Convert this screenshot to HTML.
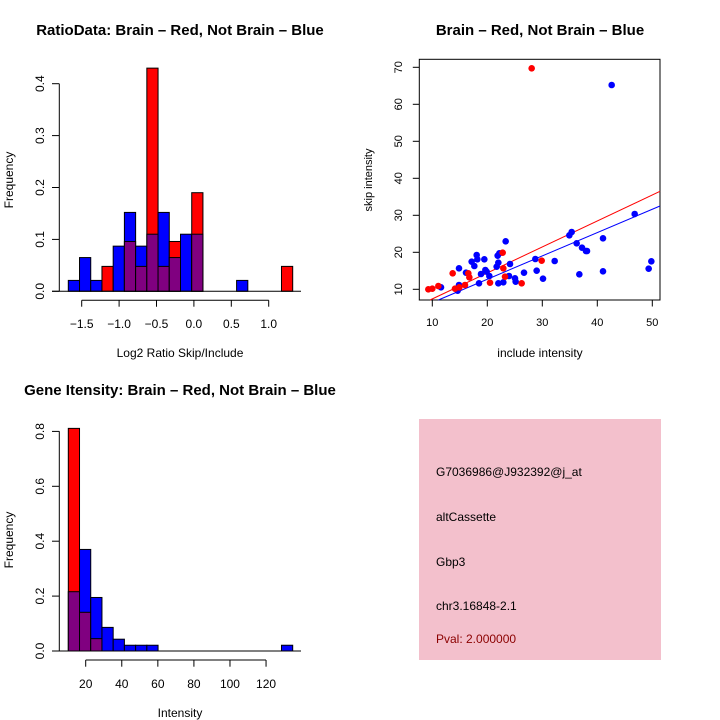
<!DOCTYPE html>
<html><head><meta charset="utf-8"><style>
html,body{margin:0;padding:0;background:#fff;}
svg{display:block;font-family:"Liberation Sans",sans-serif;}
</style></head><body>
<svg id="s" width="720" height="720" viewBox="0 0 720 720" xmlns="http://www.w3.org/2000/svg">
<rect width="720" height="720" fill="#fff"/>
<g font-weight="bold" font-size="15" text-anchor="middle">
<text x="180" y="35">RatioData: Brain – Red, Not Brain – Blue</text>
<text x="540" y="35">Brain – Red, Not Brain – Blue</text>
<text x="180" y="395">Gene Itensity: Brain – Red, Not Brain – Blue</text>
</g>
<g font-size="12" text-anchor="middle">
<text x="180" y="357">Log2 Ratio Skip/Include</text>
<text x="180" y="717">Intensity</text>
<text x="540" y="357">include intensity</text>
<text transform="translate(13,180) rotate(-90)" font-size="12">Frequency</text>
<text transform="translate(13,540) rotate(-90)" font-size="12">Frequency</text>
<text transform="translate(372,180) rotate(-90)" font-size="11">skip intensity</text>
</g>
<g id="h1"></g><g id="h2"></g><g id="sc"></g>
<rect x="419" y="419" width="242" height="241" fill="#f3c0cc"/>
<g font-size="12">
<text x="436" y="476">G7036986@J932392@j_at</text>
<text x="436" y="521">altCassette</text>
<text x="436" y="566">Gbp3</text>
<text x="436" y="610">chr3.16848-2.1</text>
<text x="436" y="643" fill="#8b0000">Pval: 2.000000</text>
</g>
</svg>
<script>
var NS="http://www.w3.org/2000/svg";
function el(p,t,a,txt){var e=document.createElementNS(NS,t);for(var k in a)e.setAttribute(k,a[k]);if(txt!=null)e.textContent=txt;document.getElementById(p).appendChild(e);return e;}
function hist(id,y0,scale,blue,red,x0,w){
 for(var i=0;i<blue.length;i++){
  var b=blue[i]||0,r=red[i]||0;if(!b&&!r)continue;
  var x=x0+w*i, hi=Math.max(b,r), lo=Math.min(b,r);
  var c=b>=r?"#0000ff":"#ff0000";
  el(id,"rect",{x:x,y:y0-hi*scale,width:w,height:hi*scale,fill:c,stroke:"#000","stroke-width":1});
  if(lo>0)el(id,"rect",{x:x,y:y0-lo*scale,width:w,height:lo*scale,fill:"#800080",stroke:"#000","stroke-width":1});
 }
 el(id,"line",{x1:52,y1:y0,x2:301,y2:y0,stroke:"#000","stroke-width":1});
}
var B1=[.021,.065,.021,0,.087,.152,.087,.11,.152,.065,.11,.11,0,0,0,.021,0,0,0,0];
var R1=[0,0,0,.048,0,.096,.048,.43,.048,.096,0,.19,0,0,0,0,0,0,0,.048];
hist("h1",291.3,519,B1,R1,68.3,11.22);
el("h1","line",{x1:59.3,y1:291.3,x2:59.3,y2:83.7,stroke:"#000"});
for(var v=0;v<=4;v++){var y=291.3-v*51.9;el("h1","line",{x1:52,y1:y,x2:59.3,y2:y,stroke:"#000"});
 el("h1","text",{transform:"translate(44,"+y+") rotate(-90)","text-anchor":"middle","font-size":"12"},(v/10).toFixed(1));}
el("h1","line",{x1:81.7,y1:300.3,x2:268.7,y2:300.3,stroke:"#000"});
var xl=["\u22121.5","\u22121.0","\u22120.5","0.0","0.5","1.0"];
for(var i=0;i<6;i++){var x=81.7+i*37.4;el("h1","line",{x1:x,y1:300.3,x2:x,y2:306.7,stroke:"#000"});
 el("h1","text",{x:x,y:328,"text-anchor":"middle","font-size":"12"},xl[i]);}
var B3=[.216,.37,.195,.086,.043,.021,.021,.021,0,0,0,0,0,0,0,0,0,0,0,.021];
var R3=[.811,.141,.045];
hist("h2",651,274.5,B3,R3,68.3,11.22);
el("h2","line",{x1:59.3,y1:651,x2:59.3,y2:431.3,stroke:"#000"});
for(var v=0;v<=4;v++){var y=651-v*54.9;el("h2","line",{x1:52,y1:y,x2:59.3,y2:y,stroke:"#000"});
 el("h2","text",{transform:"translate(44,"+y+") rotate(-90)","text-anchor":"middle","font-size":"12"},(v*0.2).toFixed(1));}
el("h2","line",{x1:85.7,y1:660,x2:266,y2:660,stroke:"#000"});
for(var i=0;i<6;i++){var x=85.7+i*36.07;el("h2","line",{x1:x,y1:660,x2:x,y2:666.7,stroke:"#000"});
 el("h2","text",{x:x,y:688,"text-anchor":"middle","font-size":"12"},String(20+20*i));}
el("sc","rect",{x:419.3,y:59.3,width:240.7,height:240.7,fill:"none",stroke:"#000"});
for(var i=0;i<5;i++){var x=432.3+i*55;el("sc","line",{x1:x,y1:300,x2:x,y2:306.5,stroke:"#000"});
 el("sc","text",{x:x,y:326,"text-anchor":"middle","font-size":"11"},String(10+10*i));}
for(var i=0;i<7;i++){var y=289.3-i*37;el("sc","line",{x1:412.8,y1:y,x2:419.3,y2:y,stroke:"#000"});
 el("sc","text",{transform:"translate(402,"+y+") rotate(-90)","text-anchor":"middle","font-size":"11"},String(10+10*i));}
function P(zx,zy){return [380+zx/3,50+zy/3];}
var red=[[145,718],[157,716],[175,708],[218,670],[225,716],[238,712],[255,705],[265,670],[268,682],[330,698],[368,608],[370,655],[375,680],[425,700],[455,55],[485,632]];
var blue=[[183,712],[237,655],[237,705],[233,722],[258,668],[275,635],[283,648],[290,615],[292,628],[297,700],[303,672],[313,628],[316,660],[320,665],[328,678],[350,650],[353,617],[355,638],[358,610],[355,700],[370,697],[377,574],[387,678],[390,642],[405,685],[407,695],[432,668],[466,627],[470,662],[489,686],[524,633],[568,556],[575,546],[590,580],[598,673],[606,593],[618,603],[621,603],[669,565],[669,664],[695,105],[764,492],[806,656],[814,634]];
var a=P(150,750),b=P(840,424);el("sc","line",{x1:a[0],y1:a[1],x2:b[0],y2:b[1],stroke:"#ff0000"});
a=P(175,750);b=P(840,468);el("sc","line",{x1:a[0],y1:a[1],x2:b[0],y2:b[1],stroke:"#0000ff"});
blue.forEach(function(p){var q=P(p[0],p[1]);el("sc","circle",{cx:q[0],cy:q[1],r:3.3,fill:"#0000ff"});});
red.forEach(function(p){var q=P(p[0],p[1]);el("sc","circle",{cx:q[0],cy:q[1],r:3.3,fill:"#ff0000"});});
</script>
</body></html>
